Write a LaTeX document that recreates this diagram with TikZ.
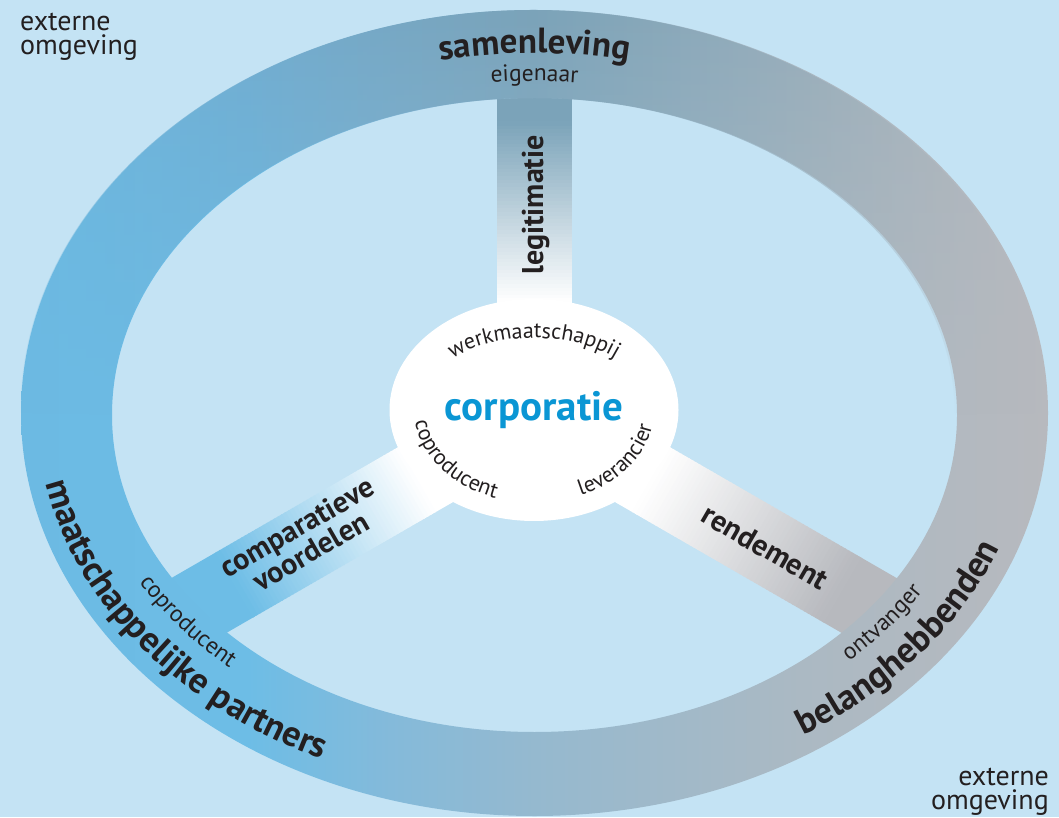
\documentclass[tikz,border=0pt]{standalone}
\usepackage{fontspec}
\setmainfont{PT Sans}
\usetikzlibrary{shapes.geometric, decorations.text, fadings, positioning}
\usepackage{xcolor}

\definecolor{bg}{HTML}{C4E3F4}
\definecolor{ink}{HTML}{231F20}
\definecolor{corpblue}{HTML}{0A96D4}
\definecolor{spoketop}{HTML}{7BA3B9}
\definecolor{spokeleft}{HTML}{6DBDE6}
\definecolor{spokeright}{HTML}{B7B9BE}
% ring stops
\definecolor{ringa}{HTML}{6CB8E0}
\definecolor{ringb}{HTML}{72ACCF}
\definecolor{ringc}{HTML}{97ADBA}
\definecolor{ringd}{HTML}{6CBAE3}
\definecolor{ringe}{HTML}{84BADA}
\definecolor{ringf}{HTML}{95B9CF}
\definecolor{ringg}{HTML}{ABB9C3}

% ring colours, left to right
\pgfdeclarehorizontalshading{ringtop}{100bp}{color(0bp)=(ringa); color(25bp)=(ringa); color(36bp)=(ringb); color(50bp)=(spoketop); color(63bp)=(ringc); color(75bp)=(spokeright); color(100bp)=(spokeright)}
\pgfdeclarehorizontalshading{ringbottom}{100bp}{color(0bp)=(ringd); color(25bp)=(ringd); color(36bp)=(spokeleft); color(43bp)=(ringe); color(50bp)=(ringf); color(63bp)=(ringg); color(75bp)=(spokeright); color(100bp)=(spokeright)}
\tikzfading[name=topfade, top color=transparent!0, bottom color=transparent!100]

\newcommand\bigbold{\fontsize{36}{36}\selectfont\bfseries}
\newcommand\midbold{\fontsize{35}{35}\selectfont\bfseries}
\newcommand\smalltext{\fontsize{22}{22}\selectfont}
\newcommand\ringtext{\fontsize{23.5}{23.5}\selectfont}

\begin{document}
\begin{tikzpicture}[x=1pt, y=1pt]
    % Styles
    \tikzstyle{heading} = [font=\fontsize{30}{28}\selectfont\bfseries, text=ink, inner sep=0]
    \tikzstyle{outer} = [font=\fontsize{28}{24}\selectfont, text=ink, inner sep=0]
    \tikzstyle{core} = [ellipse, fill=white, minimum width=289, minimum height=222, inner sep=0, font=\fontsize{41}{41}\selectfont\bfseries, text=corpblue]

    \useasboundingbox (0,0) rectangle (1059,817);
    \fill[bg] (0,0) rectangle (1059,817);

    \coordinate (hub) at (534,405);
    \coordinate (ringo) at (534.5,404);
    \coordinate (ringi) at (534.5,402);

    % Spokes: white near the core, ring colour further out
    \foreach \ang/\col/\ra/\rb/\len in {90/spoketop/110/290/340, 210/spokeleft/135/345/420, 330/spokeright/135/355/420} {
        \begin{scope}[shift={(hub)}, rotate=\ang]
            \fill[white] (0,-37.5) rectangle (\ra+1,37.5);
            \fill[\col] (\rb-1,-37.5) rectangle (\len,37.5);
            \foreach \i in {0,...,49} {
                \pgfmathtruncatemacro\p{2*\i+1}
                \fill[\col!\p!white] ({\ra+\i*(\rb-\ra)/50},-37.5) rectangle ({\ra+(\i+1.3)*(\rb-\ra)/50},37.5);
            }
        \end{scope}
    }

    % Ring: light lower colours everywhere, darker top half faded in
    \shade[shading=ringbottom, even odd rule] (ringo) ellipse [x radius=513.5, y radius=403] (ringi) ellipse [x radius=422.5, y radius=317];
    \shade[shading=ringtop, path fading=topfade] (1048,404) arc[start angle=0, end angle=180, x radius=513.5, y radius=403]
        -- (112,402) arc[start angle=180, end angle=0, x radius=422.5, y radius=317] -- cycle;

    % Nodes
    \node[core] (corp) at (534,407) {corporatie};
    \node[heading, rotate=90, anchor=base] (legit) at (543,612) {legitimatie};
    \node[heading, rotate=30, align=center] (compar) at (304,278) {comparatieve\\voordelen};
    \node[heading, rotate=-30] (rend) at (765,270) {rendement};
    \node[outer, anchor=north west, align=left] (extleft) at (20,804) {externe\\omgeving};
    \node[outer, anchor=north east, align=right] (extright) at (1049,49) {externe\\omgeving};

    % Text on the ring
    \path[decorate, decoration={text along path, text align=center, text color=ink, text={|\midbold|samenleving}}]
        (ringo) ++(105:468 and 360) arc[start angle=105, end angle=75, x radius=468, y radius=360];
    \path[decorate, decoration={text along path, text align=center, text color=ink, text={|\ringtext|eigenaar}}]
        (ringo) ++(100:438 and 332) arc[start angle=100, end angle=80, x radius=438, y radius=332];
    \path[decorate, decoration={text along path, text align=center, text color=ink, text={|\bigbold|maatschappelijke partners}}]
        (ringo) ++(184:497 and 383) arc[start angle=184, end angle=250, x radius=497, y radius=383];
    \path[decorate, decoration={text along path, text align=center, text color=ink, text={|\ringtext|coproducent}}]
        (ringo) ++(199:454 and 344) arc[start angle=199, end angle=237, x radius=454, y radius=344];
    \path[decorate, decoration={text along path, text align=center, text color=ink, text={|\bigbold|belanghebbenden}}]
        (ringo) ++(298:497 and 383) arc[start angle=298, end angle=345, x radius=497, y radius=383];
    \path[decorate, decoration={text along path, text align=center, text color=ink, text={|\ringtext|ontvanger}}]
        (ringo) ++(303:454 and 344) arc[start angle=303, end angle=341, x radius=454, y radius=344];

    % Text inside the core
    \path[decorate, decoration={text along path, text align=center, text color=ink, text={|\smalltext|werkmaatschappij}}]
        (corp.center) ++(150:117 and 72) arc[start angle=150, end angle=30, x radius=117, y radius=72];
    \path[decorate, decoration={text along path, text align=center, text color=ink, text={|\smalltext|coproducent}}]
        (corp.center) ++(180:120 and 93) arc[start angle=180, end angle=257, x radius=120, y radius=93];
    \path[decorate, decoration={text along path, text align=center, text color=ink, text={|\smalltext|leverancier}}]
        (corp.center) ++(285:120 and 93) arc[start angle=285, end angle=360, x radius=120, y radius=93];
\end{tikzpicture}
\end{document}
